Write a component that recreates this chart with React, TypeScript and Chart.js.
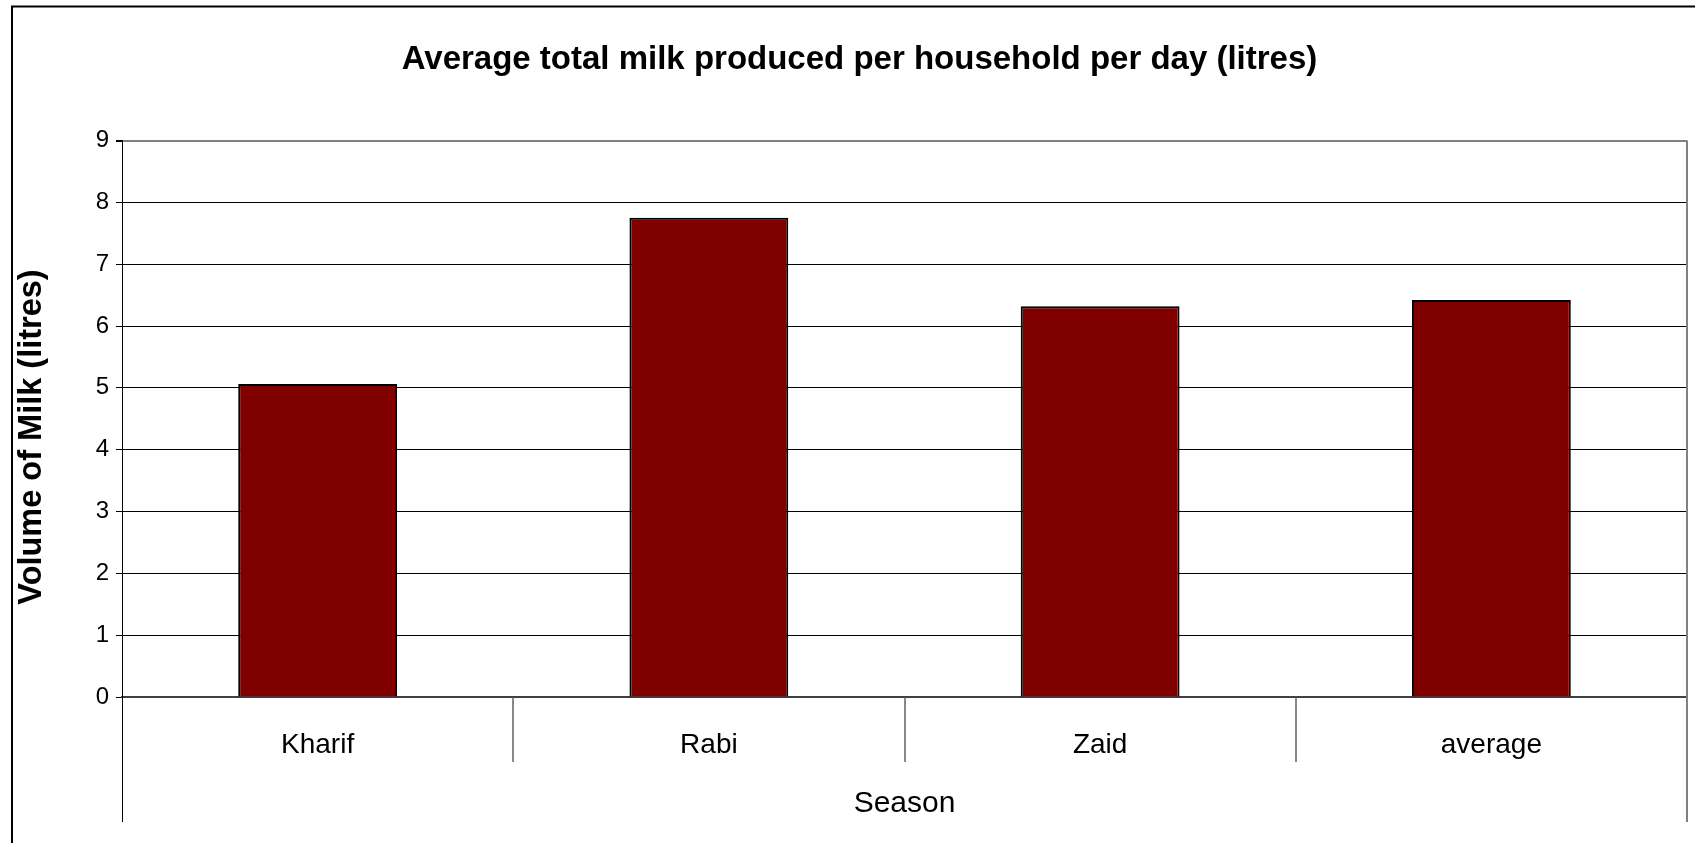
import React, { useEffect, useRef } from "react";
import { Chart, registerables } from "chart.js";

Chart.register(...registerables);

const chartTitle = "Average total milk produced per household per day (litres)";
const yAxisTitle = "Volume of Milk (litres)";
const xAxisTitle = "Season";
const categories = ["Kharif", "Rabi", "Zaid", "average"];
const milkVolume = [5.06, 7.75, 6.32, 6.42];
const yMin = 0;
const yMax = 9;
const yStep = 1;

const FONT = "'Liberation Sans', Arial, Helvetica, sans-serif";

const framePlugin = {
  id: "framePlugin",
  afterDraw(chart: any) {
    const { ctx, chartArea } = chart;
    const x = chart.scales.x;
    ctx.save();
    // outer chart border (extends beyond viewport)
    ctx.strokeStyle = "#000";
    ctx.lineWidth = 2;
    ctx.strokeRect(12, 6.5, 2000, 2000);

    const ext = chartArea.bottom + 125;
    // right border of plot area
    ctx.strokeStyle = "#808080";
    ctx.lineWidth = 2;
    ctx.beginPath();
    ctx.moveTo(chartArea.right, chartArea.top);
    ctx.lineTo(chartArea.right, ext);
    ctx.stroke();
    // left axis extension below
    ctx.strokeStyle = "#000";
    ctx.lineWidth = 1;
    ctx.beginPath();
    ctx.moveTo(Math.round(chartArea.left) + 0.5, chartArea.bottom);
    ctx.lineTo(Math.round(chartArea.left) + 0.5, ext);
    ctx.stroke();
    // category separators
    ctx.strokeStyle = "#606060";
    ctx.lineWidth = 1.5;
    for (let i = 0; i < categories.length - 1; i++) {
      const px = (x.getPixelForValue(i) + x.getPixelForValue(i + 1)) / 2;
      ctx.beginPath();
      ctx.moveTo(Math.round(px), chartArea.bottom);
      ctx.lineTo(Math.round(px), chartArea.bottom + 65);
      ctx.stroke();
    }
    // y axis title
    ctx.translate(32, 437);
    ctx.rotate(-Math.PI / 2);
    ctx.fillStyle = "#000";
    ctx.font = `bold 32.5px ${FONT}`;
    ctx.textAlign = "center";
    ctx.textBaseline = "middle";
    ctx.fillText(yAxisTitle, 0, 0);
    ctx.restore();
  },
};

export default function App() {
  const canvasRef = useRef<HTMLCanvasElement | null>(null);

  useEffect(() => {
    if (!canvasRef.current) return;
    const chart = new Chart(canvasRef.current, {
      type: "bar",
      data: {
        labels: categories,
        datasets: [
          {
            data: milkVolume,
            backgroundColor: "#800000",
            borderColor: "#000",
            borderWidth: 2,
            barPercentage: 0.406,
            categoryPercentage: 1,
          },
        ],
      },
      options: {
        responsive: false,
        animation: false,
        devicePixelRatio: 1,
        layout: { padding: { left: 32, right: 8, top: 0, bottom: 0 } },
        plugins: {
          legend: { display: false },
          tooltip: { enabled: false },
          title: {
            display: true,
            text: chartTitle,
            color: "#000",
            font: { family: FONT, size: 33, weight: "bold", lineHeight: 1.2 },
            padding: { top: 39.7, bottom: 61.2 },
          },
        },
        scales: {
          x: {
            afterFit: (s: any) => {
              s.height = 146;
            },
            grid: { display: false, drawTicks: false },
            border: { display: true, color: "#404040", width: 2 },
            ticks: {
              color: "#000",
              font: { family: FONT, size: 28 },
              padding: 31,
              maxRotation: 0,
            },
            title: {
              display: true,
              text: xAxisTitle,
              color: "#000",
              font: { family: FONT, size: 30, lineHeight: 1.2 },
              padding: { top: 0, bottom: 21 },
            },
          },
          y: {
            min: yMin,
            max: yMax,
            afterFit: (s: any) => {
              s.width = 90;
            },
            ticks: {
              stepSize: yStep,
              color: "#000",
              font: { family: FONT, size: 24 },
              padding: 7,
            },
            grid: {
              color: (c: any) => (c.tick && c.tick.value === yMax ? "#808080" : "#000"),
              lineWidth: (c: any) => (c.tick && c.tick.value === yMax ? 2 : 1),
              tickColor: "#000",
              tickLength: 6,
              drawTicks: true,
            },
            border: { display: true, color: "#000", width: 1 },
          },
        },
      },
      plugins: [framePlugin],
    });
    return () => chart.destroy();
  }, []);

  return (
    <div style={{ position: "absolute", left: 0, top: 0, width: 1695, height: 843, background: "#fff" }}>
      <canvas ref={canvasRef} width={1695} height={843} style={{ display: "block", width: 1695, height: 843 }} />
    </div>
  );
}
